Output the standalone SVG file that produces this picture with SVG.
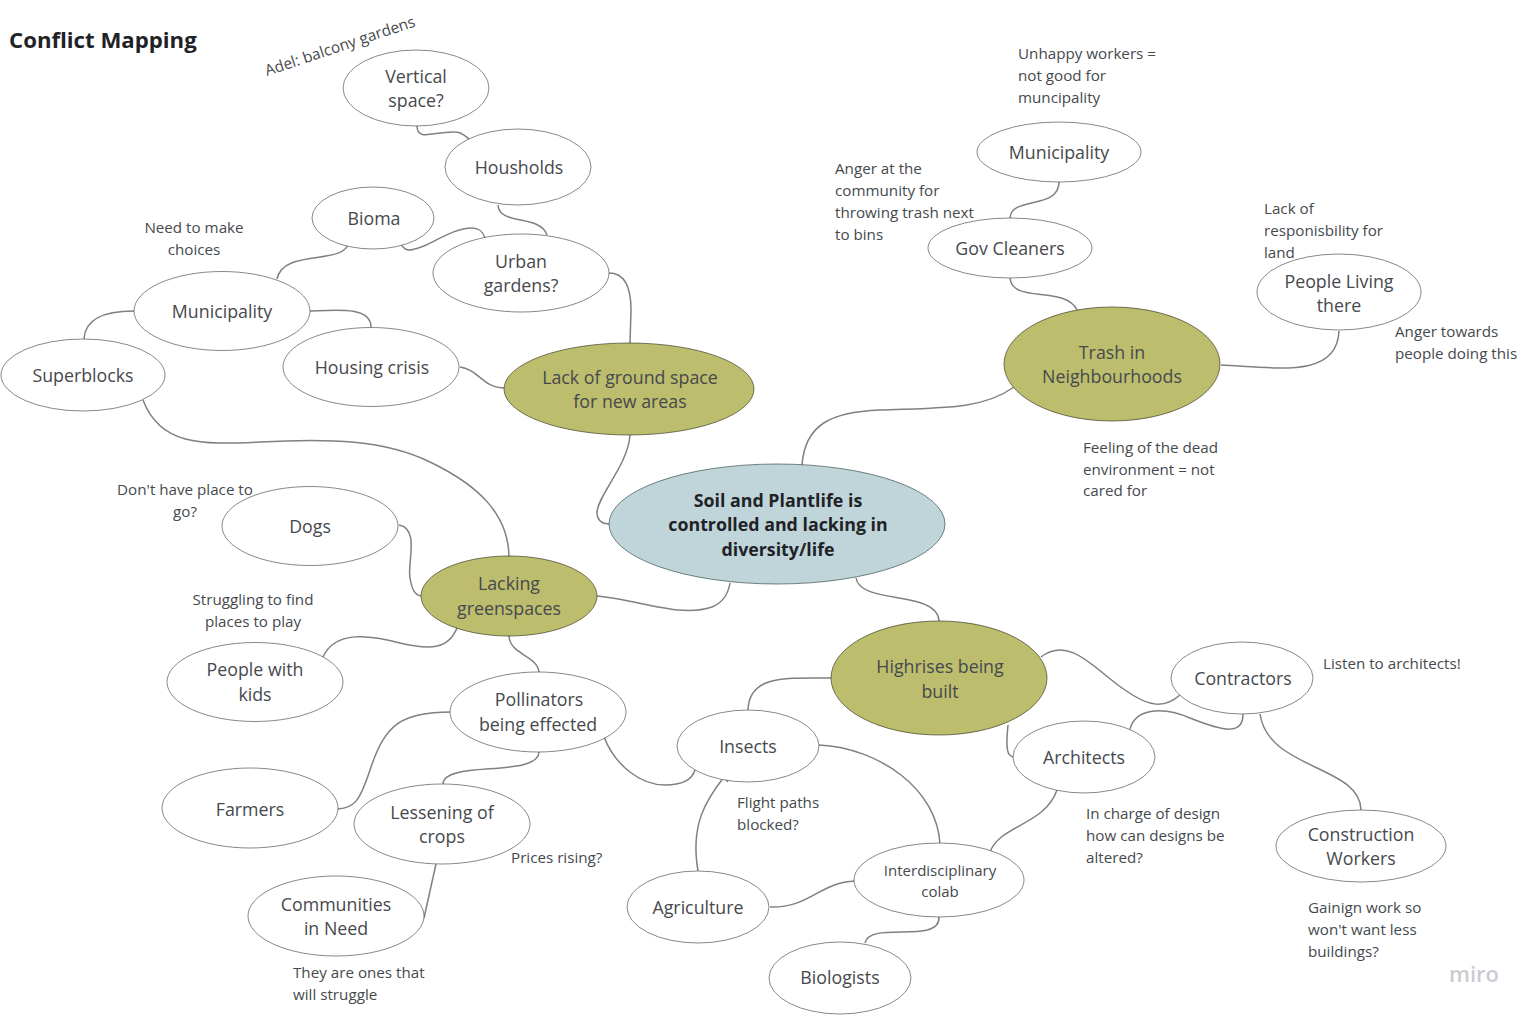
<svg xmlns="http://www.w3.org/2000/svg" width="1534" height="1018" viewBox="0 0 1534 1018">
<style>
text{font-family:"Open Sans","Noto Sans","Liberation Sans",sans-serif;fill:#46494d;text-anchor:middle}
.n{font-size:17.8px}
.s{font-size:15px}
.note{font-size:15.2px;text-anchor:start}
.c{font-size:15.2px;text-anchor:middle}
.w{fill:#fff;stroke:#555;stroke-width:.7}
.g{fill:#bdbd6e;stroke:#3f3f2a;stroke-width:.7}
.b{fill:#bfd5d9;stroke:#3f4f52;stroke-width:.7}
#connectors path{fill:none;stroke:#808080;stroke-width:1.5}
</style>
<rect width="1534" height="1018" fill="#fff"/>
<g id="connectors">
<path d="M417 126C417 142 435 131 455 132C462 132 465 136 469 139"/>
<path d="M498 205C499 226 540 214 547 235"/>
<path d="M400 242C405 254 412 250 424 246C438 240 455 228 472 228C480 228 483 232 485 238"/>
<path d="M349 242C345 266 283 248 277 279"/>
<path d="M134 311C105 311 85 318 84 339"/>
<path d="M310 311C335 310 371 306 371 327"/>
<path d="M609 273C626 273 631 290 631 310L630 343"/>
<path d="M460 367C480 370 482 388 505 388"/>
<path d="M630 435C628 465 598 495 597 512C597 522 603 524 610 524"/>
<path d="M143 400C160 445 200 445 260 442C330 438 385 440 430 462C480 486 508 515 509 556"/>
<path d="M802 465C805 425 830 412 880 410C950 408 985 408 1014 387"/>
<path d="M856 578C860 605 938 590 939 621"/>
<path d="M597 596C640 600 680 618 712 607C722 603 728 595 730 583"/>
<path d="M1010 278C1012 304 1065 285 1077 310"/>
<path d="M1059 182C1059 210 1011 196 1010 218"/>
<path d="M1221 365C1280 368 1337 378 1339 331"/>
<path d="M399 525C420 528 407 565 410 578C412 590 415 595 421 596"/>
<path d="M323 657C335 630 370 635 400 643C430 650 450 650 458 625"/>
<path d="M509 636C510 655 537 655 539 672"/>
<path d="M451 712C400 712 385 725 370 770C360 800 355 808 338 809"/>
<path d="M539 752C538 778 443 760 443 784"/>
<path d="M436 864L424 918"/>
<path d="M604 737C615 765 640 785 665 785C682 785 692 780 695 770"/>
<path d="M832 678C785 678 749 675 748 710"/>
<path d="M1041 657C1070 635 1095 670 1125 690C1150 708 1165 708 1180 695"/>
<path d="M1243 714C1243 735 1225 732 1190 718C1160 705 1135 710 1130 729"/>
<path d="M1260 714C1268 770 1360 765 1361 810"/>
<path d="M1008 725C1006 745 1006 757 1014 757"/>
<path d="M1057 790C1045 825 1000 825 990 852"/>
<path d="M819 745C880 748 938 790 940 845"/>
<path d="M698 871C690 825 706 800 724 777L728 782"/>
<path d="M770 907C810 908 820 882 855 881"/>
<path d="M939 917C940 945 870 920 865 943"/>
</g>
<text x="9" y="48" style="font-size:22.2px;font-weight:700;text-anchor:start;fill:#1f2226">Conflict Mapping</text>
<text class="note" transform="translate(267 76) rotate(-18.5)" style="font-size:15.4px">Adel: balcony gardens</text>
<g id="n-vertical"><ellipse class="w" cx="416" cy="88" rx="73" ry="38"/><text class="n" x="416" y="83">Vertical</text><text class="n" x="416" y="107">space?</text></g>
<g id="n-housholds"><ellipse class="w" cx="518" cy="167" rx="73" ry="38"/><text class="n" x="519" y="174">Housholds</text></g>
<g id="n-bioma"><ellipse class="w" cx="373" cy="218" rx="61" ry="31"/><text class="n" x="374" y="225">Bioma</text></g>
<g id="n-urban"><ellipse class="w" cx="521" cy="273" rx="88" ry="39"/><text class="n" x="521" y="268">Urban</text><text class="n" x="521" y="292">gardens?</text></g>
<g id="n-muni-l"><ellipse class="w" cx="222" cy="311" rx="88" ry="39.5"/><text class="n" x="222" y="318">Municipality</text></g>
<g id="n-housing"><ellipse class="w" cx="371" cy="367" rx="88" ry="39.5"/><text class="n" x="372" y="374">Housing crisis</text></g>
<g id="n-superblocks"><ellipse class="w" cx="83" cy="375" rx="82" ry="36"/><text class="n" x="83" y="382">Superblocks</text></g>
<g id="n-lack"><ellipse class="g" cx="629" cy="389" rx="125" ry="46"/><text class="n" x="630" y="384">Lack of ground space</text><text class="n" x="630" y="408">for new areas</text></g>
<g id="n-soil"><ellipse class="b" cx="777" cy="524" rx="168" ry="60"/><text class="n" x="778" y="507" style="font-weight:700;fill:#1f2226">Soil and Plantlife is</text><text class="n" x="778" y="531" style="font-weight:700;fill:#1f2226">controlled and lacking in</text><text class="n" x="778" y="556" style="font-weight:700;fill:#1f2226">diversity/life</text></g>
<g id="n-trash"><ellipse class="g" cx="1112" cy="364" rx="108" ry="57"/><text class="n" x="1112" y="359">Trash in</text><text class="n" x="1112" y="383">Neighbourhoods</text></g>
<g id="n-gov"><ellipse class="w" cx="1010" cy="248" rx="82" ry="30"/><text class="n" x="1010" y="255">Gov Cleaners</text></g>
<g id="n-muni-r"><ellipse class="w" cx="1059" cy="152" rx="82" ry="30"/><text class="n" x="1059" y="159">Municipality</text></g>
<g id="n-people"><ellipse class="w" cx="1339" cy="292" rx="82" ry="38"/><text class="n" x="1339" y="288">People Living</text><text class="n" x="1339" y="312">there</text></g>
<g id="n-dogs"><ellipse class="w" cx="310" cy="526" rx="88" ry="39.5"/><text class="n" x="310" y="533">Dogs</text></g>
<g id="n-lacking"><ellipse class="g" cx="509" cy="596" rx="88" ry="40"/><text class="n" x="509" y="590">Lacking</text><text class="n" x="509" y="615">greenspaces</text></g>
<g id="n-kids"><ellipse class="w" cx="255" cy="682" rx="88" ry="39.5"/><text class="n" x="255" y="676">People with</text><text class="n" x="255" y="701">kids</text></g>
<g id="n-pollinators"><ellipse class="w" cx="538" cy="712" rx="88" ry="40"/><text class="n" x="539" y="706">Pollinators</text><text class="n" x="538" y="731">being effected</text></g>
<g id="n-farmers"><ellipse class="w" cx="250" cy="808" rx="88" ry="40"/><text class="n" x="250" y="816">Farmers</text></g>
<g id="n-lessening"><ellipse class="w" cx="442" cy="824" rx="88" ry="40"/><text class="n" x="442" y="819">Lessening of</text><text class="n" x="442" y="843">crops</text></g>
<g id="n-communities"><ellipse class="w" cx="336" cy="916" rx="88" ry="40"/><text class="n" x="336" y="911">Communities</text><text class="n" x="336" y="935">in Need</text></g>
<g id="n-insects"><ellipse cx="748" cy="746" rx="71" ry="36" class="w"/><text class="n" x="748" y="753">Insects</text></g>
<g id="n-highrises"><ellipse class="g" cx="939" cy="678" rx="108" ry="57"/><text class="n" x="940" y="673">Highrises being</text><text class="n" x="940" y="698">built</text></g>
<g id="n-contractors"><ellipse class="w" cx="1242" cy="678" rx="71" ry="36"/><text class="n" x="1243" y="685">Contractors</text></g>
<g id="n-architects"><ellipse class="w" cx="1084" cy="757" rx="71" ry="36"/><text class="n" x="1084" y="764">Architects</text></g>
<g id="n-construction"><ellipse class="w" cx="1361" cy="846" rx="85" ry="36"/><text class="n" x="1361" y="841">Construction</text><text class="n" x="1361" y="865">Workers</text></g>
<g id="n-colab"><ellipse class="w" cx="939" cy="880" rx="85" ry="37"/><text class="s" x="940" y="876">Interdisciplinary</text><text class="s" x="940" y="897">colab</text></g>
<g id="n-agriculture"><ellipse class="w" cx="698" cy="907" rx="71" ry="36"/><text class="n" x="698" y="914">Agriculture</text></g>
<g id="n-biologists"><ellipse class="w" cx="840" cy="978" rx="71" ry="36"/><text class="n" x="840" y="984">Biologists</text></g>
<g id="notes">
<text class="c" x="194" y="233">Need to make</text><text class="c" x="194" y="255">choices</text>
<text class="note" x="1018" y="59">Unhappy workers =</text><text class="note" x="1018" y="81">not good for</text><text class="note" x="1018" y="103">muncipality</text>
<text class="note" x="835" y="174">Anger at the</text><text class="note" x="835" y="196">community for</text><text class="note" x="835" y="218">throwing trash next</text><text class="note" x="835" y="240">to bins</text>
<text class="note" x="1264" y="214">Lack of</text><text class="note" x="1264" y="236">responisbility for</text><text class="note" x="1264" y="258">land</text>
<text class="note" x="1395" y="337">Anger towards</text><text class="note" x="1395" y="359">people doing this</text>
<text class="note" x="1083" y="453">Feeling of the dead</text><text class="note" x="1083" y="475">environment = not</text><text class="note" x="1083" y="496">cared for</text>
<text class="c" x="185" y="495">Don't have place to</text><text class="c" x="185" y="517">go?</text>
<text class="c" x="253" y="605">Struggling to find</text><text class="c" x="253" y="627">places to play</text>
<text class="note" x="1323" y="669">Listen to architects!</text>
<text class="note" x="737" y="808">Flight paths</text><text class="note" x="737" y="830">blocked?</text>
<text class="note" x="1086" y="819">In charge of design</text><text class="note" x="1086" y="841">how can designs be</text><text class="note" x="1086" y="863">altered?</text>
<text class="note" x="511" y="863">Prices rising?</text>
<text class="note" x="1308" y="913">Gainign work so</text><text class="note" x="1308" y="935">won't want less</text><text class="note" x="1308" y="957">buildings?</text>
<text class="note" x="293" y="978">They are ones that</text><text class="note" x="293" y="1000">will struggle</text>
</g>
<text x="1474" y="982" style="font-size:22px;font-weight:600;fill:#c9ccd1">miro</text>
</svg>
